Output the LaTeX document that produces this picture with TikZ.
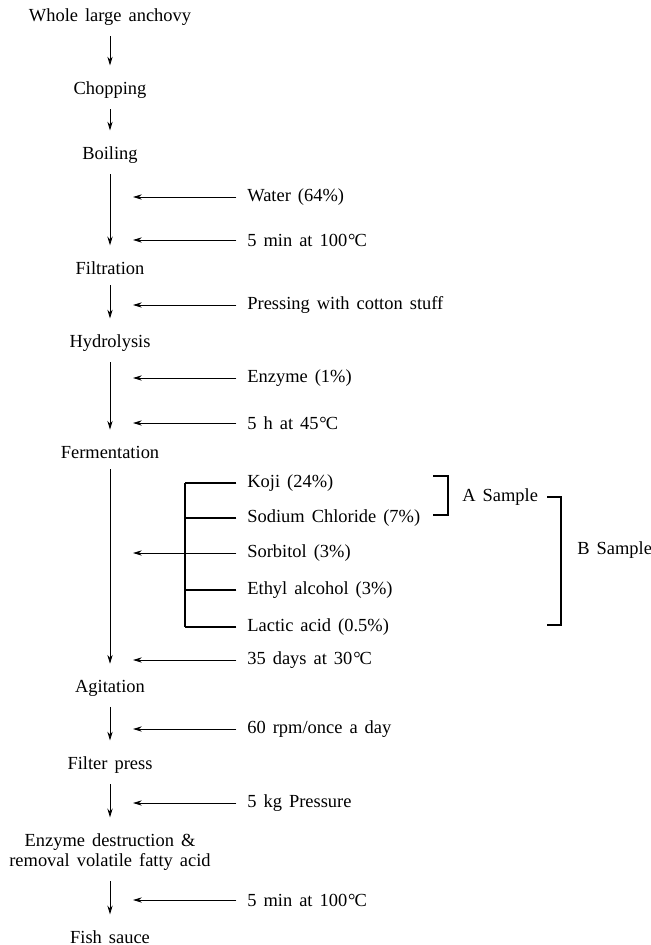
\documentclass[tikz,border=0pt]{standalone}
\usepackage{fontspec}
\setmainfont{Liberation Serif}
\usetikzlibrary{arrows.meta}

\newcommand{\flowfont}{\fontsize{10.5}{12.5}\selectfont\spaceskip=0.38em plus 0.1em}
\newcommand{\degC}{\kern0.5pt{\textdegree}\kern-0.6pt C}

\tikzset{
  step text/.style={font=\flowfont, inner sep=1pt, align=center},
  side text/.style={font=\flowfont, anchor=west, inner sep=0pt},
  flow/.style={line width=0.5pt, -{Stealth[length=5pt,width=3pt]}, shorten <=5pt, shorten >=8pt},
  feed/.style={line width=0.5pt, -{Stealth[length=5pt,width=3pt]}, shorten <=6pt},
  brace line/.style={line width=0.6pt}
}

\begin{document}
\begin{tikzpicture}[x=0.02cm, y=-0.02cm]
  \useasboundingbox (0,0) rectangle (650,945);

  % 主流程
  \node[step text] (whole)  at (110,17)  {Whole large anchovy};
  \node[step text] (chop)   at (110,90)  {Chopping};
  \node[step text] (boil)   at (110,155) {Boiling};
  \node[step text] (filt)   at (110,268) {Filtration};
  \node[step text] (hydro)  at (110,343) {Hydrolysis};
  \node[step text] (ferm)   at (110,452) {Fermentation};
  \node[step text] (agit)   at (110,688) {Agitation};
  \node[step text] (fpress) at (110,765) {Filter press};
  \node[step text] (destr)  at (110,852) {Enzyme destruction \&\\[-1pt] removal volatile fatty acid};
  \node[step text] (sauce)  at (110,937) {Fish sauce};

  \draw[flow] (whole) -- (chop);
  \draw[flow] (chop) -- (boil);
  \draw[flow] (boil) -- (filt);
  \draw[flow] (filt) -- (hydro);
  \draw[flow] (hydro) -- (ferm);
  \draw[flow] (ferm) -- (agit);
  \draw[flow] (agit) -- (fpress);
  \draw[flow] (fpress) -- (destr);
  \draw[flow] (destr) -- (sauce);

  % 加入条件
  \coordinate (tip) at (133,0);
  \node[side text] (water) at (247,197) {Water (64\%)};
  \node[side text] (boilt) at (247,240) {5 min at 100\degC};
  \node[side text] (cotton) at (247,305) {Pressing with cotton stuff};
  \node[side text] (enz)   at (247,378) {Enzyme (1\%)};
  \node[side text] (hydt)  at (247,423) {5 h at 45\degC};
  \node[side text] (days)  at (247,660) {35 days at 30\degC};
  \node[side text] (rpm)   at (247,729) {60 rpm/once a day};
  \node[side text] (kg)    at (247,803) {5 kg Pressure};
  \node[side text] (heat)  at (247,900) {5 min at 100\degC};

  \foreach \n in {water,boilt,cotton,enz,hydt,days,rpm,kg,heat}
    \draw[feed] (\n.west) -- (\n.west -| tip);

  % 发酵添加物
  \coordinate (br) at (185,0);
  \node[side text] (koji) at (247,483) {Koji (24\%)};
  \node[side text] (nacl) at (247,518) {Sodium Chloride (7\%)};
  \node[side text] (sorb) at (247,553) {Sorbitol (3\%)};
  \node[side text] (etoh) at (247,590) {Ethyl alcohol (3\%)};
  \node[side text] (lact) at (247,627) {Lactic acid (0.5\%)};

  \foreach \n in {koji,nacl,etoh,lact}
    \draw[brace line, shorten <=6pt] (\n.west) -- (\n.west -| br);
  \draw[brace line] (koji.west -| br) -- (lact.west -| br);
  \draw[feed] (sorb.west) -- (sorb.west -| tip);

  % 样品括号
  \draw[brace line] (433,476) -- (448,476) -- (448,515) -- (433,515);
  \node[side text] (asam) at (462,497) {A Sample};
  \draw[brace line] (547,497) -- (561,497) -- (561,625) -- (547,625);
  \node[side text] (bsam) at (577,550) {B Sample};
\end{tikzpicture}
\end{document}
